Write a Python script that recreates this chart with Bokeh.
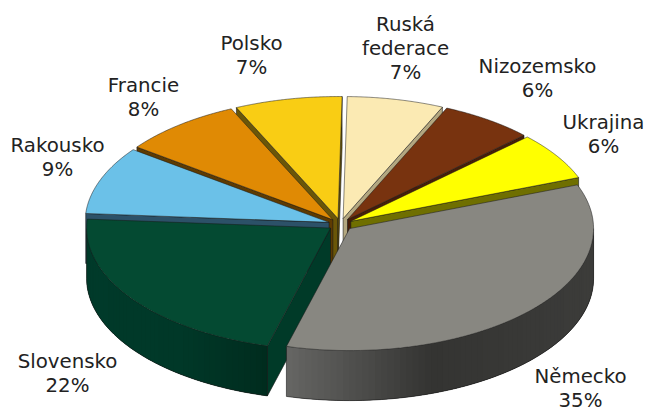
import numpy as np
from bokeh.embed import file_html
from bokeh.models import Range1d
from bokeh.plotting import figure
from bokeh.resources import INLINE
from bokeh.core.properties import value

# ---- data (clockwise from the first slice) ----
categories = ["Německo", "Slovensko", "Rakousko", "Francie", "Polsko", "Ruská federace", "Nizozemsko", "Ukrajina"]
shares = [35.0, 22.0, 9.0, 8.0, 7.1, 6.4, 6.2, 6.3]
percent_labels = ["35%", "22%", "9%", "8%", "7%", "7%", "6%", "6%"]

# ---- styling / layout ----
label_lines = [["Německo"], ["Slovensko"], ["Rakousko"], ["Francie"], ["Polsko"], ["Ruská", "federace"], ["Nizozemsko"], ["Ukrajina"]]
label_anchor = [(580, 375.5), (67, 361), (57, 145), (143, 85), (251, 42.5), (405, 24), (537, 66), (603, 122)]
top_colors = ["#888781", "#044a32", "#6bc1e8", "#e08a04", "#f9cd14", "#fbeab3", "#78330f", "#ffff00"]
wall_colors = ["#3a3a38", "#003a28", "#2c5168", "#5e3b02", "#6a5608", "#b3a780", "#481e08", "#6f6f00"]
wall_stops_x = [85, 180, 267, 285, 350, 430, 593]
wall_stops_rgb = [(0, 58, 42), (0, 56, 40), (0, 44, 30), (102, 102, 100), (80, 80, 78), (52, 52, 50), (60, 60, 58)]
CX, CY = 340.0, 224.0
RX, RY = 244.0, 122.0
DEPTH = 50.0
EXPLODE = 12.2
START = 21.0
LINE = "#1a1a1a"

W, H = 645, 411
p = figure(width=W, height=H, output_backend="svg", toolbar_location=None,
           x_range=Range1d(0, W), y_range=Range1d(H, 0), min_border=0,
           outline_line_color=None, background_fill_color="white", border_fill_color="white")
p.axis.visible = False
p.grid.visible = False

frac = np.array(shares) / sum(shares) * 360.0
starts = START - np.concatenate([[0], np.cumsum(frac)[:-1]])   # clockwise
ends = starts - frac
mids = (starts + ends) / 2


def wall_color(x):
    c = [np.interp(x, wall_stops_x, [s[k] for s in wall_stops_rgb]) for k in range(3)]
    return "#%02x%02x%02x" % tuple(int(round(v)) for v in c)


def apex(i):
    m = np.radians(mids[i])
    return CX + EXPLODE * np.cos(m), CY - EXPLODE * 0.5 * np.sin(m)


def rim(i, deg):
    ax, ay = apex(i)
    t = np.radians(deg)
    return ax + RX * np.cos(t), ay - RY * np.sin(t)


def draw_slice(i):
    ax, ay = apex(i)
    # radial walls, only when they face the viewer
    for deg, normal in ((starts[i], starts[i] + 90), (ends[i], ends[i] - 90)):
        if np.sin(np.radians(normal)) < 0:
            ex, ey = rim(i, deg)
            p.patch([ax, ex, ex, ax], [ay, ey, ey + DEPTH, ay + DEPTH],
                    fill_color=wall_colors[i], line_color=LINE, line_width=0.6)
    lo, hi = ends[i], starts[i]
    angs = np.arange(lo, hi, 1.5).tolist() + [hi]
    front = [a for a in angs if np.sin(np.radians(a)) <= 0.02]
    if len(front) > 1:
        xs, ys, cs = [], [], []
        for k in range(len(front) - 1):
            # each strip runs on under the following ones, so no seams appear
            span = np.radians(np.linspace(front[k], front[min(k + 3, len(front) - 1)], 6))
            ux = ax + RX * np.cos(span)
            uy = ay - RY * np.sin(span)
            xs.append(ux.tolist() + ux[::-1].tolist())
            ys.append(uy.tolist() + (uy[::-1] + DEPTH).tolist())
            mx = (rim(i, front[k])[0] + rim(i, front[k + 1])[0]) / 2
            cs.append(wall_color(mx) if i in (0, 1) else wall_colors[i])
        p.patches(xs, ys, fill_color=cs, line_color=None)
        bx = [rim(i, a)[0] for a in front]
        by = [rim(i, a)[1] + DEPTH for a in front]
        p.line(bx, by, line_color=LINE, line_width=0.6)
        ex0, ey0 = rim(i, front[0])
        ex1, ey1 = rim(i, front[-1])
        p.line([ex0, ex0], [ey0, ey0 + DEPTH], line_color=LINE, line_width=0.6)
        p.line([ex1, ex1], [ey1, ey1 + DEPTH], line_color=LINE, line_width=0.6)
    t = np.radians(np.linspace(starts[i], ends[i], 80))
    tx = [ax] + (ax + RX * np.cos(t)).tolist()
    ty = [ay] + (ay - RY * np.sin(t)).tolist()
    p.patch(tx, ty, fill_color=top_colors[i], line_color=LINE, line_width=0.6, line_alpha=0.85)


for i in sorted(range(len(shares)), key=lambda k: -np.sin(np.radians(mids[k]))):
    draw_slice(i)

STEP = 24
tx, ty, tt = [], [], []
for lines, pct, (lx, ly) in zip(label_lines, percent_labels, label_anchor):
    for n, s in enumerate(lines + [pct]):
        tx.append(lx)
        ty.append(ly + n * STEP)
        tt.append(s)
p.text(tx, ty, text=tt, text_font=value("DejaVu Sans"), text_font_size="19.8px",
       text_color="#222222", text_align="center", text_baseline="middle")

open("out.html", "w").write(file_html(p, INLINE))
